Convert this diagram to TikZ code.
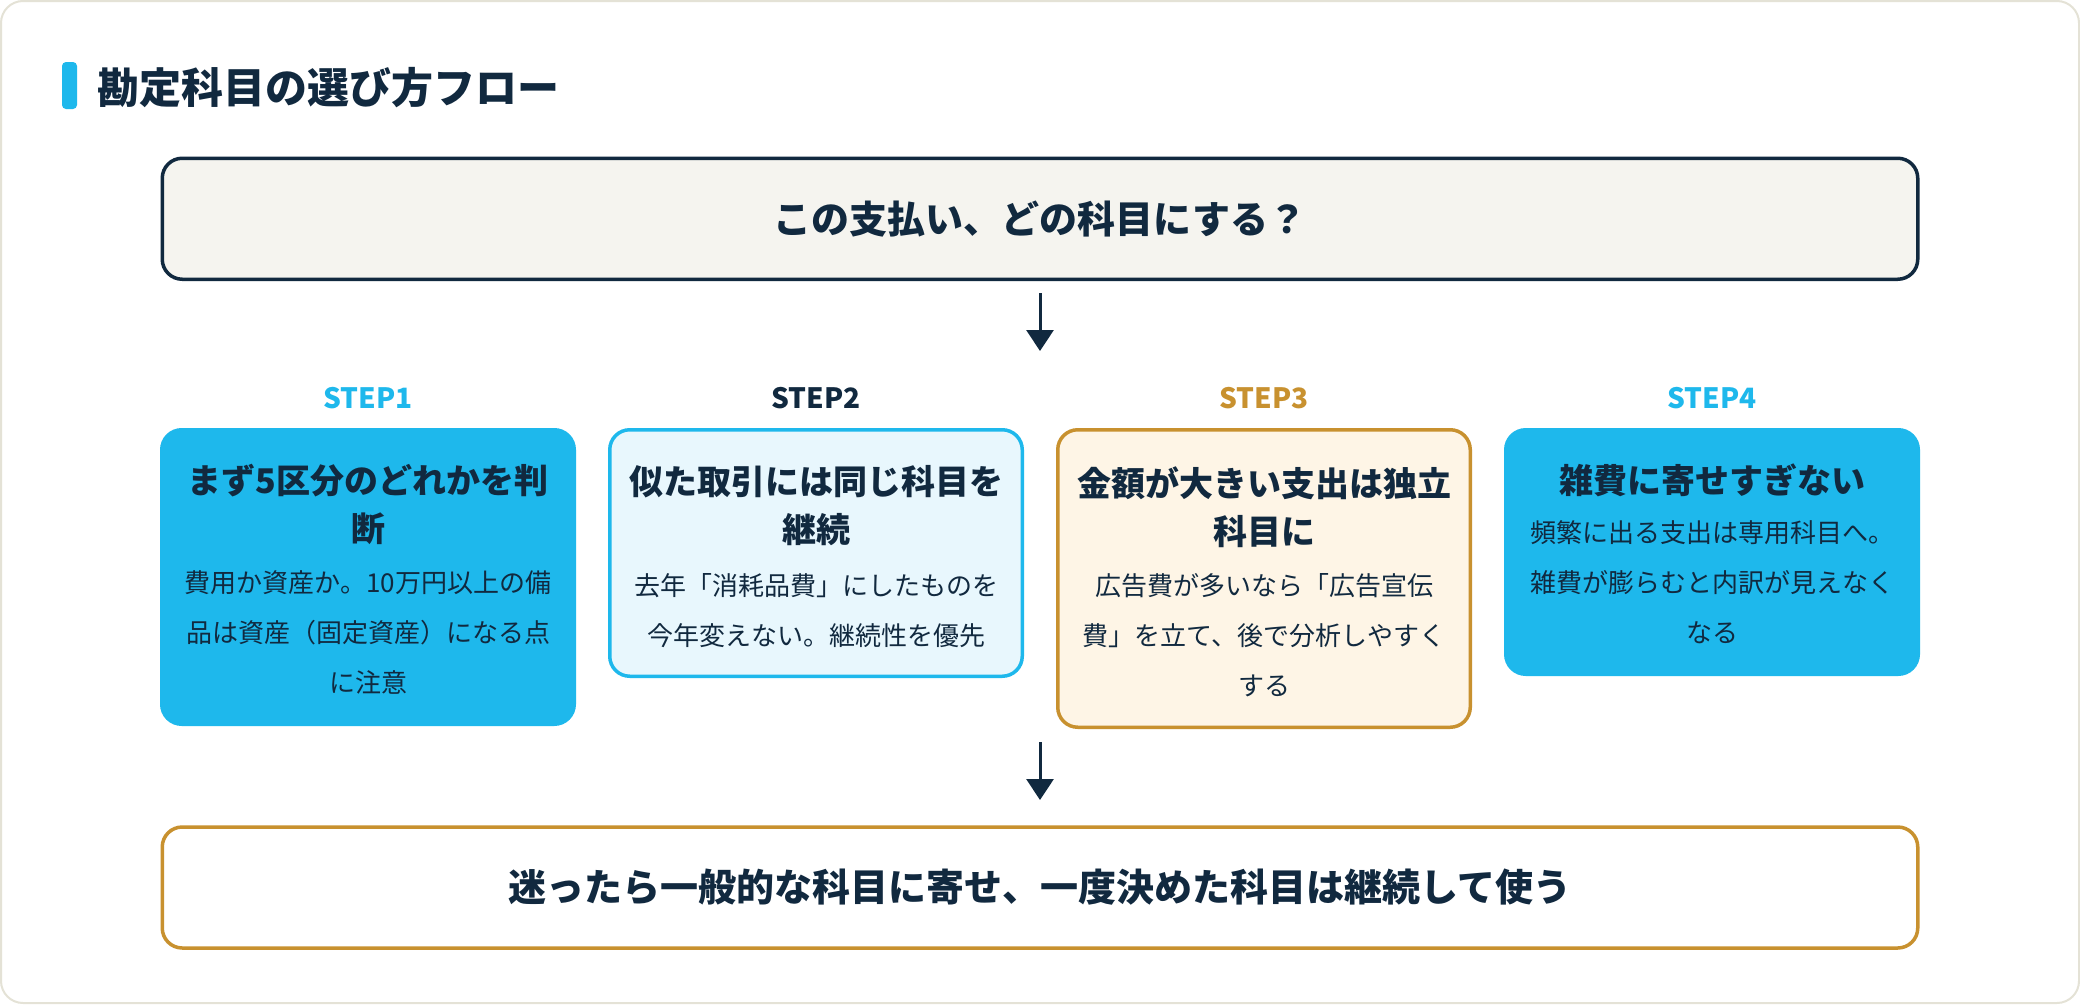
\documentclass[tikz,border=0pt]{standalone}
\usepackage{fontspec}
\setmainfont{Noto Sans CJK JP}
\usetikzlibrary{arrows.meta}
\definecolor{navy}{HTML}{11293F}
\definecolor{cyanA}{HTML}{1EB8EC}
\definecolor{gold}{HTML}{C8912F}
\definecolor{framegray}{HTML}{E4E2D6}
\definecolor{topfill}{HTML}{F5F4EF}
\definecolor{lightcyan}{HTML}{E8F7FD}
\definecolor{cream}{HTML}{FEF5E6}
\begin{document}
\begin{tikzpicture}[x=1pt,y=-1pt,
  every node/.style={inner sep=0pt, outer sep=0pt, text=navy},
  bigbox/.style={rounded corners=20pt, line width=3.5pt, minimum width=1755.5pt, minimum height=121pt},
  stepbox/.style={rounded corners=20pt, line width=3.5pt, minimum width=412.5pt, anchor=north},
  steplabel/.style={anchor=base, font=\bfseries\fontsize{28pt}{34pt}\selectfont},
  boxtitle/.style={align=center, font=\bfseries\fontsize{34pt}{48pt}\selectfont},
  boxbody/.style={align=center, font=\fontsize{26pt}{50pt}\selectfont},
  bigtext/.style={font=\bfseries\fontsize{38pt}{44pt}\selectfont},
  flow/.style={draw=navy, line width=3pt, -{Triangle[width=27pt,length=21pt]}}
]
\useasboundingbox (0,0) rectangle (2080,1004);
\draw[framegray, line width=2pt, fill=white, rounded corners=22pt] (1,1) rectangle (2079,1003);

% heading
\fill[cyanA, rounded corners=4pt] (62,62) rectangle (77,109);
\node[anchor=west, font=\bfseries\fontsize{42pt}{50pt}\selectfont] (heading) at (97,88) {勘定科目の選び方フロー};

% top box
\node[bigbox, draw=navy, fill=topfill] (top) at (1040,218.75) {};
\node[bigtext] (toptext) at (1040,219) {この支払い、どの科目にする？};

% arrow 1
\coordinate (a1end) at (1040,351);
\draw[flow, shorten <=14pt] (top.south) -- (a1end);

% step labels
\node[steplabel, text=cyanA] (l1) at (368,408) {STEP1};
\node[steplabel, text=navy] (l2) at (816,408) {STEP2};
\node[steplabel, text=gold] (l3) at (1264,408) {STEP3};
\node[steplabel, text=cyanA] (l4) at (1712,408) {STEP4};

% step boxes
\node[stepbox, draw=cyanA, fill=cyanA, minimum height=294.5pt] (s1) at (368,429.75) {};
\node[stepbox, draw=cyanA, fill=lightcyan, minimum height=246.5pt] (s2) at (816,429.75) {};
\node[stepbox, draw=gold, fill=cream, minimum height=297.5pt] (s3) at (1264,429.75) {};
\node[stepbox, draw=cyanA, fill=cyanA, minimum height=244.5pt] (s4) at (1712,429.75) {};

\node[boxtitle] (s1t) at (368,504) {まず5区分のどれかを判\\断};
\node[boxbody] (s1b) at (368,632) {費用か資産か。10万円以上の備\\品は資産（固定資産）になる点\\に注意};

\node[boxtitle] (s2t) at (816,506) {似た取引には同じ科目を\\継続};
\node[boxbody] (s2b) at (816,611) {去年「消耗品費」にしたものを\\今年変えない。継続性を優先};

\node[boxtitle] (s3t) at (1264,507) {金額が大きい支出は独立\\科目に};
\node[boxbody] (s3b) at (1264,635) {広告費が多いなら「広告宣伝\\費」を立て、後で分析しやすく\\する};

\node[boxtitle] (s4t) at (1712,480) {雑費に寄せすぎない};
\node[boxbody] (s4b) at (1712,582.5) {頻繁に出る支出は専用科目へ。\\雑費が膨らむと内訳が見えなく\\なる};

% arrow 2
\coordinate (a2start) at (1040,742);
\node[bigbox, draw=gold, fill=white] (bot) at (1040,887.5) {};
\draw[flow, shorten >=27pt] (a2start) -- (bot.north);
\node[bigtext] (bottext) at (1040,887.5) {迷ったら一般的な科目に寄せ、一度決めた科目は継続して使う};
\end{tikzpicture}
\end{document}
